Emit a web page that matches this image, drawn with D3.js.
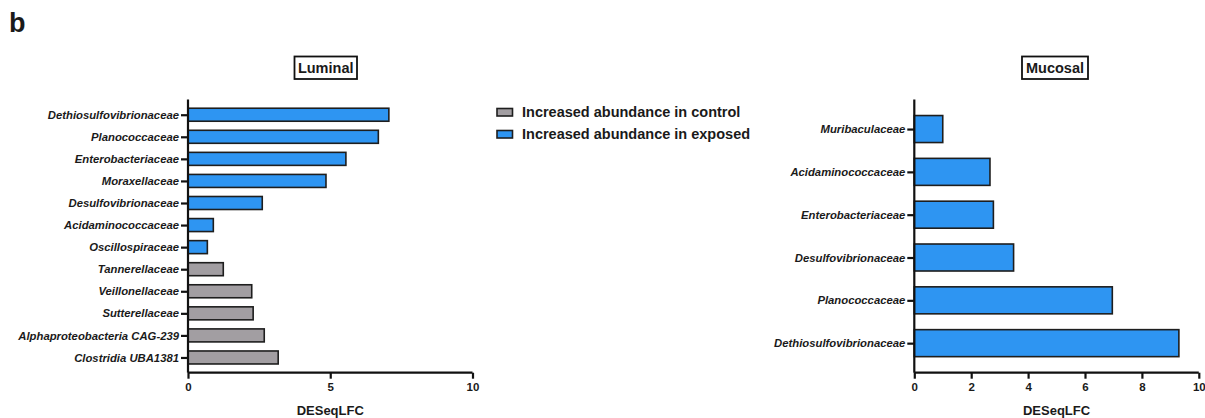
<!DOCTYPE html>
<html><head><meta charset="utf-8">
<script src="https://cdn.jsdelivr.net/npm/d3@7"></script>
<style>body{margin:0;background:#fff}svg{display:block}text{font-family:"Liberation Sans",Arial,sans-serif;fill:#1a1a1a}</style>
</head><body><svg id="c" width="1205" height="418"></svg>
<script>
const lumCategories = ["Dethiosulfovibrionaceae","Planococcaceae","Enterobacteriaceae","Moraxellaceae","Desulfovibrionaceae","Acidaminococcaceae","Oscillospiraceae","Tannerellaceae","Veillonellaceae","Sutterellaceae","Alphaproteobacteria CAG-239","Clostridia UBA1381"];
const lumValues = [7.06,6.69,5.55,4.85,2.61,0.89,0.68,1.24,2.24,2.29,2.68,3.17];
const lumGroup = ["exposed","exposed","exposed","exposed","exposed","exposed","exposed","control","control","control","control","control"];
const lumTicks = [0,5,10];
const mucCategories = ["Muribaculaceae","Acidaminococcaceae","Enterobacteriaceae","Desulfovibrionaceae","Planococcaceae","Dethiosulfovibrionaceae"];
const mucValues = [1.0,2.66,2.78,3.49,6.96,9.30];
const mucGroup = ["exposed","exposed","exposed","exposed","exposed","exposed"];
const mucTicks = [0,2,4,6,8,10];
const legendLabels = ["Increased abundance in control","Increased abundance in exposed"];
const legendKeys = ["control","exposed"];

const color = d3.scaleOrdinal().domain(["control","exposed"]).range(["#A29EA2","#2E95F2"]);
const svg = d3.select("#c");

svg.append("text").attr("x",9).attr("y",32).attr("font-size",27).attr("font-weight","bold").text("b");

function panel(opt){
  const x = d3.scaleLinear().domain([0,10]).range([opt.x0, opt.x0+284.5]);
  const y = d3.scalePoint().domain(opt.cats).range([99.5,372.7]).padding(0.69);
  const g = svg.append("g");
  g.selectAll("rect.bar").data(opt.cats).join("rect")
    .attr("x", x(0)).attr("y", d=>y(d)-opt.bh/2)
    .attr("width", (d,i)=>x(opt.vals[i])-x(0)).attr("height", opt.bh)
    .attr("fill",(d,i)=>color(opt.grp[i])).attr("stroke","#1e1e1e").attr("stroke-width",1.6);
  const ya = g.append("g").attr("transform",`translate(${x(0)},0)`)
    .call(d3.axisLeft(y).tickSize(7).tickPadding(2));
  ya.select(".domain").attr("d",`M0,99.5V372.7`).attr("stroke","#111").attr("stroke-width",2.2);
  ya.selectAll(".tick line").attr("stroke","#111").attr("stroke-width",2.2);
  ya.selectAll(".tick text").attr("font-size",opt.fs).attr("font-weight","bold").attr("font-style","italic")
    .attr("font-family","'Liberation Sans',Arial,sans-serif").attr("fill","#1a1a1a");
  const xa = g.append("g").attr("transform",`translate(0,372.7)`)
    .call(d3.axisBottom(x).tickValues(opt.ticks).tickSize(6).tickPadding(4).tickFormat(d3.format("d")));
  xa.select(".domain").attr("d",`M${x(0)},0H${x(10)}`).attr("stroke","#111").attr("stroke-width",2.2);
  xa.selectAll(".tick line").attr("stroke","#111").attr("stroke-width",2.2);
  xa.selectAll(".tick text").attr("font-size",11.5).attr("font-weight","bold")
    .attr("font-family","'Liberation Sans',Arial,sans-serif").attr("fill","#1a1a1a");
  g.append("text").attr("x",(x(0)+x(10))/2).attr("y",415).attr("text-anchor","middle")
    .attr("font-size",13).attr("font-weight","bold").text("DESeqLFC");
  g.append("text").attr("x",opt.tx).attr("y",73).attr("text-anchor","middle")
    .attr("font-size",14.5).attr("font-weight","bold").text(opt.title);
  g.append("rect").attr("x",opt.bx0).attr("y",56.5).attr("width",opt.bx1-opt.bx0).attr("height",22.5)
    .attr("fill","none").attr("stroke","#111").attr("stroke-width",1.8);
}

panel({x0:188, cats:lumCategories, vals:lumValues, grp:lumGroup, ticks:lumTicks, bh:13, fs:11.3,
  title:"Luminal", tx:325.7, bx0:294.5, bx1:357});
panel({x0:914.3, cats:mucCategories, vals:mucValues, grp:mucGroup, ticks:mucTicks, bh:27, fs:11.3,
  title:"Mucosal", tx:1055, bx0:1022, bx1:1088});

const lg = svg.append("g");
legendKeys.forEach((k,i)=>{
  const yy = 108.5 + i*22;
  lg.append("rect").attr("x",497).attr("y",yy).attr("width",15.5).attr("height",7.5)
    .attr("fill",color(k)).attr("stroke","#1e1e1e").attr("stroke-width",1.6);
  lg.append("text").attr("x",522).attr("y",yy+8.5).attr("font-size",14.5).attr("font-weight","bold")
    .attr("font-family","'Open Sans','Liberation Sans',Arial,sans-serif").text(legendLabels[i]);
});
</script></body></html>
